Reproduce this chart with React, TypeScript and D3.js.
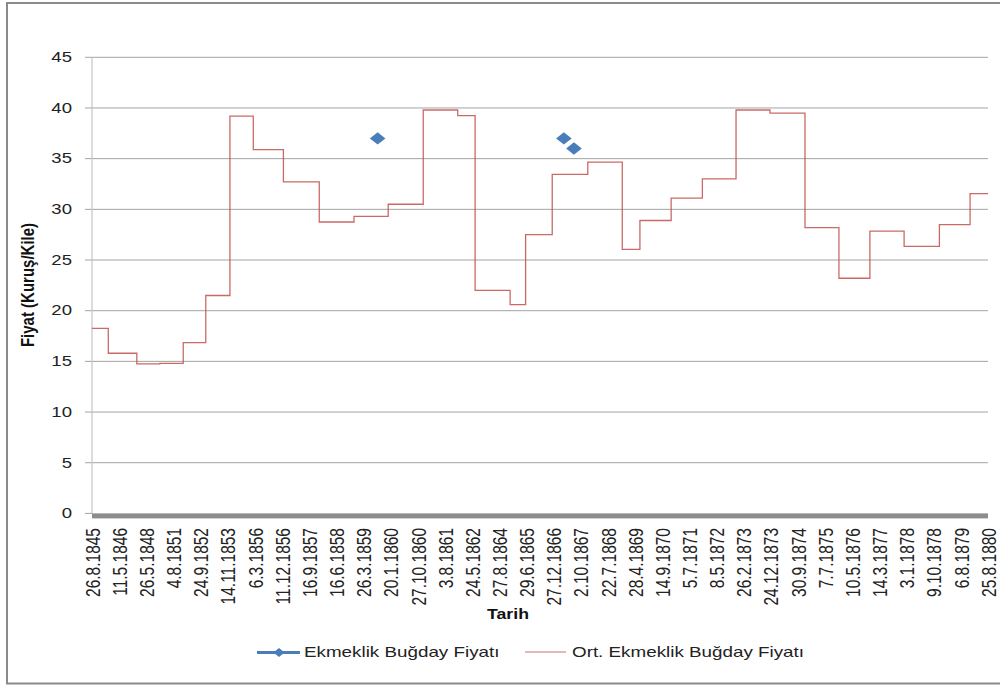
import React from "react";
import * as d3 from "d3";

// Category tick labels (dates)
const dateLabels: string[] = [
  "26.8.1845", "11.5.1846", "26.5.1848", "4.8.1851", "24.9.1852", "14.11.1853",
  "6.3.1856", "11.12.1856", "16.9.1857", "16.6.1858", "26.3.1859", "20.1.1860",
  "27.10.1860", "3.8.1861", "24.5.1862", "27.8.1864", "29.6.1865", "27.12.1866",
  "2.10.1867", "22.7.1868", "28.4.1869", "14.9.1870", "5.7.1871", "8.5.1872",
  "26.2.1873", "24.12.1873", "30.9.1874", "7.7.1875", "10.5.1876", "14.3.1877",
  "3.1.1878", "9.10.1878", "6.8.1879", "25.8.1880",
];

// Average price series: step starts (in category-label units) and values
const avgStepStart: number[] = [
  0, 0.6, 1.65, 2.5, 3.36, 4.19, 5.08, 5.94, 7.05, 8.37, 9.65, 10.91, 12.2, 13.47,
  14.11, 15.4, 15.97, 16.95, 18.26, 19.53, 20.18, 21.33, 22.48, 23.72, 24.97,
  26.26, 27.51, 28.65, 29.91, 31.21, 32.34, 33,
];
const avgStepValue: number[] = [
  18.25, 15.8, 14.75, 14.8, 16.85, 21.5, 39.2, 35.9, 32.7, 28.75, 29.3, 30.5, 39.8,
  39.25, 22.0, 20.6, 27.5, 33.45, 34.65, 26.05, 28.9, 31.1, 33.0, 39.8, 39.5,
  28.2, 23.2, 27.85, 26.35, 28.5, 31.55, 31.55,
];

// Individual price observations
const pointPos: number[] = [10.52, 17.38, 17.75];
const pointValue: number[] = [37, 37, 36];

const yTicks: number[] = [0, 5, 10, 15, 20, 25, 30, 35, 40, 45];

const seriesNames: string[] = ["Ekmeklik Buğday Fiyatı", "Ort. Ekmeklik Buğday Fiyatı"];

const SX = 1.28;
const FONT = "'Liberation Sans', Arial, sans-serif";
const BLUE = "#4A7EBB";
const RED = "#C0504D";

export default function App() {
  const W = 1000;
  const H = 685;
  const x0 = 92;
  const x1 = 988;
  const yTop = 57.3;
  const yBot = 513.4;

  const x = d3.scaleLinear().domain([0, dateLabels.length - 1]).range([x0, x1]);
  const y = d3.scaleLinear().domain([0, 45]).range([yBot, yTop]);

  const avgData = avgStepStart.map((p, i) => [p, avgStepValue[i]] as [number, number]);
  const line = d3
    .line<[number, number]>()
    .x((d) => x(d[0]))
    .y((d) => y(d[1]))
    .curve(d3.curveStepAfter);

  const diamond = (cx: number, cy: number, hw: number, hh: number) =>
    `M${cx},${cy - hh}L${cx + hw},${cy}L${cx},${cy + hh}L${cx - hw},${cy}Z`;

  return (
    <svg
      width={W}
      height={H}
      style={{ position: "absolute", left: 0, top: 0, background: "#fff" }}
    >
      <rect x={0} y={0} width={W} height={H} fill="#fff" />
      {/* chart frame */}
      <rect x={7} y={3} width={W + 10} height={680.5} fill="none" stroke="#8a8a8a" strokeWidth={2} />

      {/* gridlines + y ticks */}
      {yTicks.map((t) => (
        <g key={t}>
          {t > 0 && (
            <line x1={85} x2={x1} y1={y(t)} y2={y(t)} stroke="#a3a3a3" strokeWidth={1} />
          )}
          <g transform={`translate(72,${y(t)}) scale(${SX},1)`}>
            <text
              x={0}
              y={0}
              textAnchor="end"
              dominantBaseline="central"
              fontFamily={FONT}
              fontSize={14.5}
              fill="#222"
            >
              {t}
            </text>
          </g>
        </g>
      ))}
      {/* y axis line */}
      <line x1={x0} x2={x0} y1={yTop} y2={yBot} stroke="#c4c4c4" strokeWidth={1.2} />
      <line x1={85} x2={x0} y1={yBot} y2={yBot} stroke="#a3a3a3" strokeWidth={1} />
      {/* thick x axis bar */}
      <rect x={x0} y={yBot} width={x1 - x0} height={5} fill="#8c8c8c" />

      {/* average step line */}
      <path d={line(avgData) || ""} fill="none" stroke={RED} strokeWidth={1.3} strokeOpacity={0.85} />

      {/* observation diamonds */}
      {pointPos.map((p, i) => (
        <path key={i} d={diamond(x(p), y(pointValue[i]), 7.8, 6.2)} fill={BLUE} />
      ))}

      {/* x tick labels */}
      {dateLabels.map((lab, i) => (
        <g key={lab} transform={`translate(${x(i) + 1},528) scale(${SX},1) rotate(-90)`}>
          <text
            x={0}
            y={0}
            textAnchor="end"
            dominantBaseline="central"
            fontFamily={FONT}
            fontSize={15.5}
            fill="#222"
          >
            {lab}
          </text>
        </g>
      ))}

      {/* axis titles */}
      <g transform={`translate(27,285) scale(${SX},1) rotate(-90)`}>
        <text
          x={0}
          y={0}
          textAnchor="middle"
          dominantBaseline="central"
          fontFamily={FONT}
          fontSize={15}
          fontWeight="bold"
          fill="#111"
        >
          Fiyat (Kuruş/Kile)
        </text>
      </g>
      <g transform={`translate(508,619) scale(1.18,1)`}>
        <text x={0} y={0} textAnchor="middle" fontFamily={FONT} fontSize={15} fontWeight="bold" fill="#111">
          Tarih
        </text>
      </g>

      {/* legend */}
      <line x1={257} x2={300} y1={652.5} y2={652.5} stroke={BLUE} strokeWidth={3} />
      <path d={diamond(279, 652.5, 5.5, 4.5)} fill={BLUE} />
      <g transform={`translate(304,657) scale(${SX},1)`}>
        <text x={0} y={0} fontFamily={FONT} fontSize={14.7} fill="#222">
          {seriesNames[0]}
        </text>
      </g>
      <line x1={525} x2={566} y1={652} y2={652} stroke="#d9a0a0" strokeWidth={1.6} />
      <g transform={`translate(572,657) scale(${SX},1)`}>
        <text x={0} y={0} fontFamily={FONT} fontSize={14.7} fill="#222">
          {seriesNames[1]}
        </text>
      </g>
    </svg>
  );
}
